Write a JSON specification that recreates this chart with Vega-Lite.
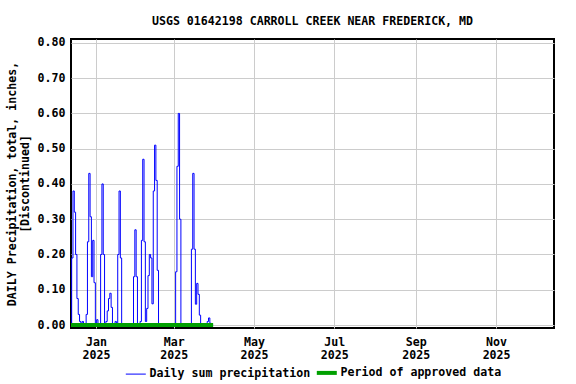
{
  "$schema": "https://vega.github.io/schema/vega-lite/v6.json",
  "width": 483,
  "height": 289,
  "autosize": {"type": "none"},
  "padding": {"left": 71, "top": 39, "right": 22, "bottom": 56},
  "background": "white",
  "config": {
    "view": {"stroke": "black", "strokeWidth": 2},
    "font": "DejaVu Sans Mono",
    "axis": {"labelFont": "DejaVu Sans Mono", "labelFontSize": 11.6, "labelFontWeight": "bold", "labelColor": "black", "titleFont": "DejaVu Sans Mono", "titleFontSize": 11.6, "titleFontWeight": "bold", "titleColor": "black", "gridColor": "#cccccc", "gridWidth": 1, "domain": false, "ticks": false, "labelOverlap": false}
  },
  "title": {"text": "USGS 01642198 CARROLL CREEK NEAR FREDERICK, MD", "font": "DejaVu Sans Mono", "fontSize": 11.6, "fontWeight": "bold", "anchor": "middle", "offset": 9, "color": "black"},
  "datasets": {
    "precip": [
      {"date": "2024-12-13", "precip": 0},
      {"date": "2024-12-14", "precip": 0.19},
      {"date": "2024-12-15", "precip": 0.38},
      {"date": "2024-12-16", "precip": 0.32},
      {"date": "2024-12-17", "precip": 0.20},
      {"date": "2024-12-18", "precip": 0.075},
      {"date": "2024-12-19", "precip": 0.03},
      {"date": "2024-12-20", "precip": 0.01},
      {"date": "2024-12-21", "precip": 0.005},
      {"date": "2024-12-22", "precip": 0.01},
      {"date": "2024-12-23", "precip": 0},
      {"date": "2024-12-24", "precip": 0},
      {"date": "2024-12-25", "precip": 0.03},
      {"date": "2024-12-26", "precip": 0.236},
      {"date": "2024-12-27", "precip": 0.43},
      {"date": "2024-12-28", "precip": 0.307},
      {"date": "2024-12-29", "precip": 0.137},
      {"date": "2024-12-30", "precip": 0.24},
      {"date": "2024-12-31", "precip": 0.12},
      {"date": "2025-01-01", "precip": 0},
      {"date": "2025-01-02", "precip": 0.015},
      {"date": "2025-01-03", "precip": 0},
      {"date": "2025-01-04", "precip": 0},
      {"date": "2025-01-05", "precip": 0.20},
      {"date": "2025-01-06", "precip": 0.40},
      {"date": "2025-01-07", "precip": 0.20},
      {"date": "2025-01-08", "precip": 0},
      {"date": "2025-01-09", "precip": 0.01},
      {"date": "2025-01-10", "precip": 0.04},
      {"date": "2025-01-11", "precip": 0.075},
      {"date": "2025-01-12", "precip": 0.09},
      {"date": "2025-01-13", "precip": 0.05},
      {"date": "2025-01-14", "precip": 0},
      {"date": "2025-01-15", "precip": 0},
      {"date": "2025-01-16", "precip": 0.01},
      {"date": "2025-01-17", "precip": 0.005},
      {"date": "2025-01-18", "precip": 0.20},
      {"date": "2025-01-19", "precip": 0.38},
      {"date": "2025-01-20", "precip": 0.19},
      {"date": "2025-01-21", "precip": 0},
      {"date": "2025-01-22", "precip": 0},
      {"date": "2025-01-23", "precip": 0},
      {"date": "2025-01-24", "precip": 0},
      {"date": "2025-01-25", "precip": 0},
      {"date": "2025-01-26", "precip": 0},
      {"date": "2025-01-27", "precip": 0},
      {"date": "2025-01-28", "precip": 0},
      {"date": "2025-01-29", "precip": 0},
      {"date": "2025-01-30", "precip": 0.137},
      {"date": "2025-01-31", "precip": 0.27},
      {"date": "2025-02-01", "precip": 0.137},
      {"date": "2025-02-02", "precip": 0},
      {"date": "2025-02-03", "precip": 0},
      {"date": "2025-02-04", "precip": 0.01},
      {"date": "2025-02-05", "precip": 0.24},
      {"date": "2025-02-06", "precip": 0.47},
      {"date": "2025-02-07", "precip": 0.236},
      {"date": "2025-02-08", "precip": 0.01},
      {"date": "2025-02-09", "precip": 0.047},
      {"date": "2025-02-10", "precip": 0.14},
      {"date": "2025-02-11", "precip": 0.20},
      {"date": "2025-02-12", "precip": 0.19},
      {"date": "2025-02-13", "precip": 0.06},
      {"date": "2025-02-14", "precip": 0.38},
      {"date": "2025-02-15", "precip": 0.51},
      {"date": "2025-02-16", "precip": 0.41},
      {"date": "2025-02-17", "precip": 0.155},
      {"date": "2025-02-18", "precip": 0},
      {"date": "2025-02-19", "precip": 0},
      {"date": "2025-02-20", "precip": 0},
      {"date": "2025-02-21", "precip": 0},
      {"date": "2025-02-22", "precip": 0},
      {"date": "2025-02-23", "precip": 0},
      {"date": "2025-02-24", "precip": 0},
      {"date": "2025-02-25", "precip": 0},
      {"date": "2025-02-26", "precip": 0},
      {"date": "2025-02-27", "precip": 0},
      {"date": "2025-02-28", "precip": 0},
      {"date": "2025-03-01", "precip": 0},
      {"date": "2025-03-02", "precip": 0},
      {"date": "2025-03-03", "precip": 0.151},
      {"date": "2025-03-04", "precip": 0.45},
      {"date": "2025-03-05", "precip": 0.60},
      {"date": "2025-03-06", "precip": 0.30},
      {"date": "2025-03-07", "precip": 0},
      {"date": "2025-03-08", "precip": 0},
      {"date": "2025-03-09", "precip": 0},
      {"date": "2025-03-10", "precip": 0},
      {"date": "2025-03-11", "precip": 0},
      {"date": "2025-03-12", "precip": 0},
      {"date": "2025-03-13", "precip": 0},
      {"date": "2025-03-14", "precip": 0},
      {"date": "2025-03-15", "precip": 0.215},
      {"date": "2025-03-16", "precip": 0.43},
      {"date": "2025-03-17", "precip": 0.215},
      {"date": "2025-03-18", "precip": 0.059},
      {"date": "2025-03-19", "precip": 0.118},
      {"date": "2025-03-20", "precip": 0.087},
      {"date": "2025-03-21", "precip": 0.028},
      {"date": "2025-03-22", "precip": 0},
      {"date": "2025-03-23", "precip": 0},
      {"date": "2025-03-24", "precip": 0},
      {"date": "2025-03-25", "precip": 0},
      {"date": "2025-03-26", "precip": 0},
      {"date": "2025-03-27", "precip": 0.01},
      {"date": "2025-03-28", "precip": 0.02},
      {"date": "2025-03-29", "precip": 0.005},
      {"date": "2025-03-30", "precip": 0},
      {"date": "2025-03-31", "precip": 0}
    ],
    "approved": [
      {"date": "2024-12-13", "precip": 0},
      {"date": "2025-03-31", "precip": 0}
    ]
  },
  "encoding": {
    "x": {
      "field": "date", "type": "temporal",
      "scale": {"type": "utc", "domain": [{"year": 2024, "month": 12, "date": 13, "utc": true}, {"year": 2025, "month": 12, "date": 15, "utc": true}]},
      "axis": {"title": null, "grid": true, "values": [1735689600000, 1740787200000, 1746057600000, 1751328000000, 1756684800000, 1761955200000], "labelExpr": "[utcFormat(datum.value, '%b'), utcFormat(datum.value, '%Y')]", "labelPadding": 8, "labelLineHeight": 13, "labelBaseline": "top"}
    },
    "y": {
      "field": "precip", "type": "quantitative",
      "scale": {"domain": [-0.0085, 0.811], "nice": false, "zero": false},
      "axis": {"title": ["DAILY Precipitation, total, inches,", "[Discontinued]"], "titleLineHeight": 13, "titlePadding": 7, "grid": true, "values": [0, 0.1, 0.2, 0.3, 0.4, 0.5, 0.6, 0.7, 0.8], "format": ".2f", "labelPadding": 6}
    }
  },
  "layer": [
    {
      "data": {"name": "precip"},
      "mark": {"type": "line", "strokeWidth": 1, "interpolate": "step"},
      "encoding": {
        "color": {
          "datum": "Daily sum precipitation",
          "scale": {"domain": ["Daily sum precipitation", "Period of approved data"], "range": ["#0000ff", "#00a000"]},
          "legend": {"orient": "none", "legendX": 59, "legendY": 328, "direction": "horizontal", "title": null, "symbolType": "stroke", "symbolSize": 400, "symbolStrokeWidth": 1, "labelFont": "DejaVu Sans Mono", "labelFontSize": 11.6, "labelFontWeight": "bold", "labelColor": "black", "labelLimit": 0, "columnPadding": -3, "labelOffset": 8, "padding": 0,
            "encode": {"symbols": {"update": {"strokeWidth": {"signal": "datum.value === 'Period of approved data' ? 4 : 1"}}}}}
        }
      }
    },
    {
      "data": {"name": "approved"},
      "mark": {"type": "line", "strokeWidth": 4},
      "encoding": {
        "color": {"datum": "Period of approved data"}
      }
    }
  ]
}
